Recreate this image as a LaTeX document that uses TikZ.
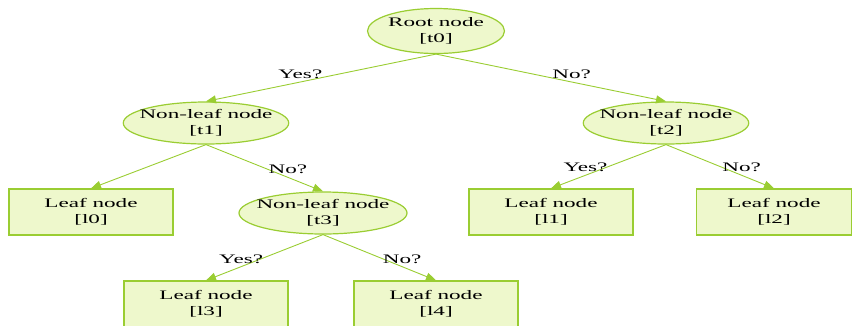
\documentclass[tikz,border=0pt]{standalone}
\usepackage{fontspec}
\setmainfont{Liberation Serif}[FakeStretch=1.78]
\usetikzlibrary{arrows.meta,shapes.geometric}

\definecolor{treegreen}{RGB}{154,205,50}
\definecolor{treefill}{RGB}{238,248,204}

\begin{document}
\begin{tikzpicture}[x=1pt,y=-1pt,
      every node/.style={font=\fontsize{13}{15.6}\selectfont},
      split/.style={ellipse,draw=treegreen,fill=treefill,line width=1.2pt,
        minimum width=164pt,minimum height=42pt,inner xsep=-8pt,inner ysep=0pt,
        align=center},
      leaf/.style={draw=treegreen,fill=treefill,line width=1.2pt,
        minimum width=164pt,minimum height=46pt,inner sep=0pt,align=center},
      branch/.style={draw=treegreen,line width=.9pt,
        -{Triangle[length=10pt,width=8pt]}},
      answer/.style={above=2pt,inner sep=1pt}
    ]
    \useasboundingbox (0,0) rectangle (852,325);

    \node[split,minimum width=137pt,minimum height=45pt] (t0) at (436,31) {Root node\\{}[t0]};
    \node[split] (t1) at (206,123) {Non-leaf node\\{}[t1]};
    \node[split] (t2) at (666,123) {Non-leaf node\\{}[t2]};
    \node[split,minimum width=168pt] (t3) at (323,213) {Non-leaf node\\{}[t3]};

    \node[leaf] (l0) at (91,212) {Leaf node\\{}[l0]};
    \node[leaf] (l1) at (551,212) {Leaf node\\{}[l1]};
    \node[leaf,minimum width=155pt] (l2) at (774,212) {Leaf node\\{}[l2]};
    \node[leaf] (l3) at (206,304) {Leaf node\\{}[l3]};
    \node[leaf] (l4) at (436,304) {Leaf node\\{}[l4]};

    \draw[branch] (t0.south) -- node[answer,pos=.59] {Yes?} (t1.north);
    \draw[branch] (t0.south) -- node[answer,pos=.59] {No?} (t2.north);
    \draw[branch] (t1.south) -- (l0.north);
    \draw[branch] (t1.south) -- node[answer,pos=.7] {No?} (t3.north);
    \draw[branch] (t2.south) -- node[answer,pos=.7] {Yes?} (l1.north);
    \draw[branch] (t2.south) -- node[answer,pos=.7] {No?} (l2.north);
    \draw[branch] (t3.south) -- node[answer,pos=.7] {Yes?} (l3.north);
    \draw[branch] (t3.south) -- node[answer,pos=.7] {No?} (l4.north);
  \end{tikzpicture}
\end{document}
